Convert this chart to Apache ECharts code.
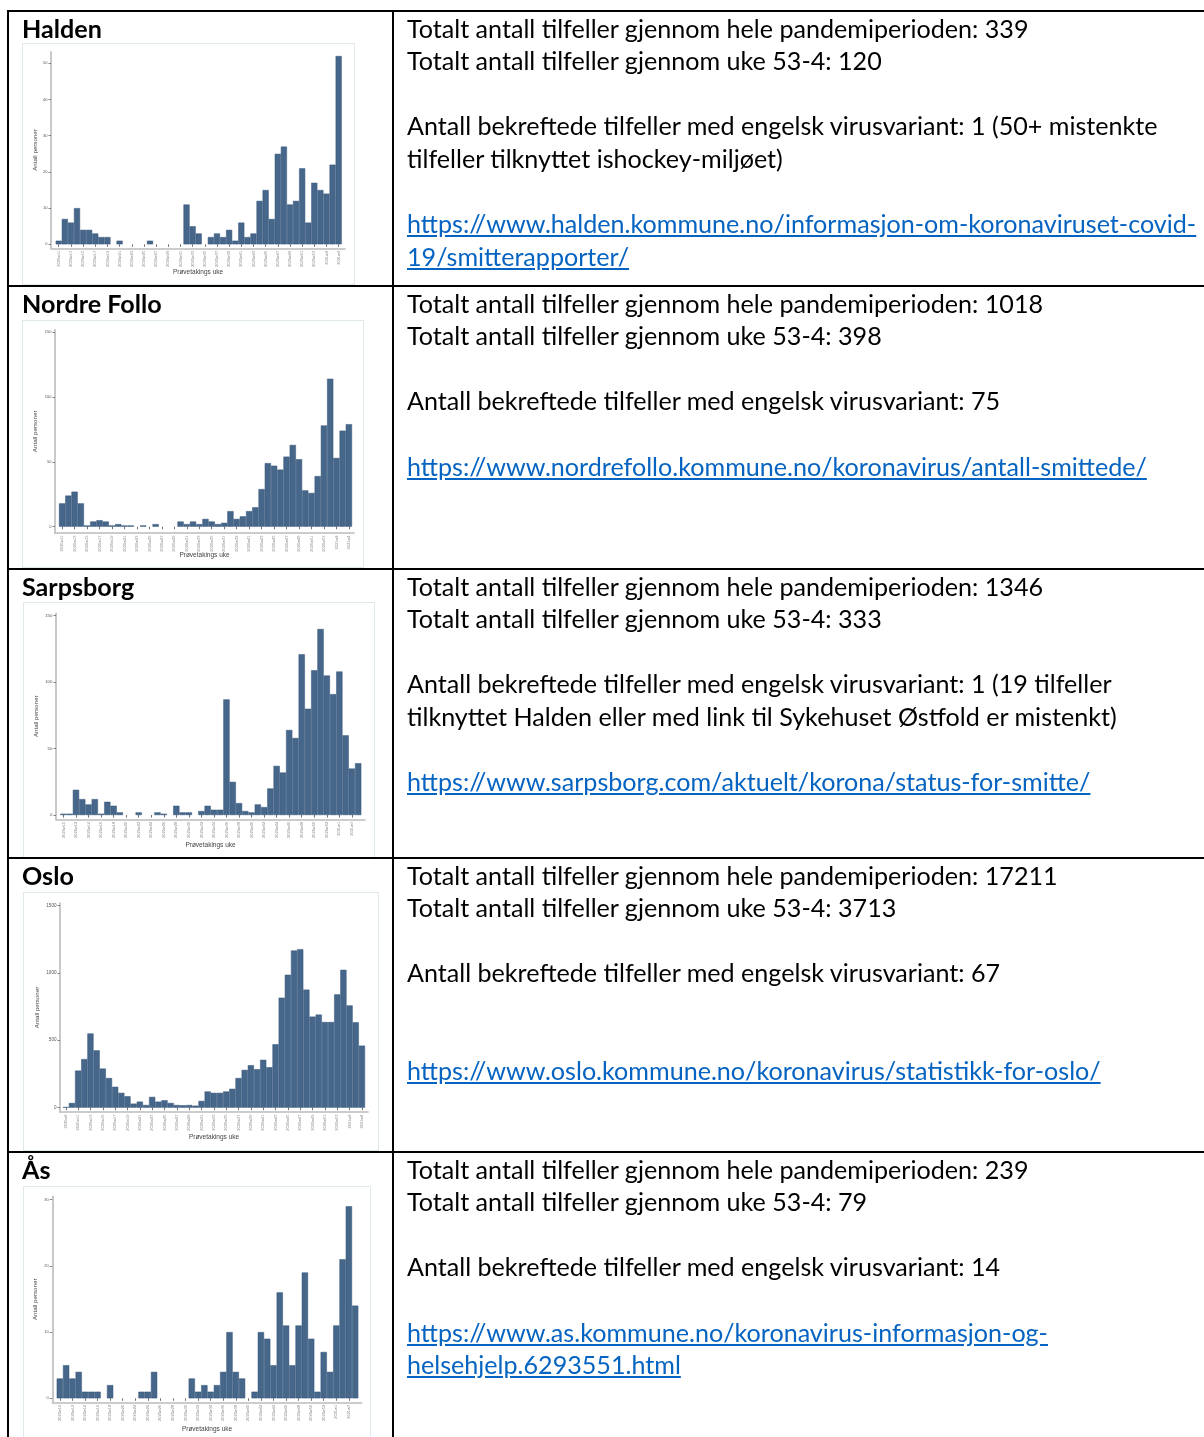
<!DOCTYPE html>
<html><head><meta charset="utf-8">
<script src="https://cdn.jsdelivr.net/npm/echarts@6/dist/echarts.min.js"></script>
<style>
html,body{margin:0;padding:0;background:#fff;}
#wrap{position:relative;width:1204px;height:1437px;overflow:hidden;background:#fff;}
#chart{position:absolute;left:0;top:0;width:1204px;height:1437px;}
.ln{position:absolute;background:#000;}
.frame{position:absolute;border:1px solid #dfe9eb;box-sizing:border-box;}
.txt{position:absolute;left:407px;white-space:nowrap;font-family:Lato,"Open Sans",sans-serif;color:#000;line-height:32.6px;font-size:21px;}
.name{position:absolute;left:22px;white-space:nowrap;font-family:Lato,"Open Sans",sans-serif;font-weight:700;color:#000;line-height:32.6px;font-size:21px;}
a{color:#0563C1;text-decoration:underline;}
</style></head>
<body>
<div id="wrap">
  <div class="frame" style="left:22px;top:43px;width:333px;height:242px"></div>
  <div class="frame" style="left:22px;top:320px;width:342px;height:248px"></div>
  <div class="frame" style="left:23px;top:602px;width:352px;height:256px"></div>
  <div class="frame" style="left:23px;top:892px;width:356px;height:259px"></div>
  <div class="frame" style="left:23px;top:1186px;width:348px;height:260px"></div>
  <div id="chart"></div>

  <div class="ln" style="left:7px;top:10px;width:1197px;height:2px"></div>
  <div class="ln" style="left:7px;top:285px;width:1197px;height:2px"></div>
  <div class="ln" style="left:7px;top:568px;width:1197px;height:2px"></div>
  <div class="ln" style="left:7px;top:857px;width:1197px;height:2px"></div>
  <div class="ln" style="left:7px;top:1151px;width:1197px;height:2px"></div>
  <div class="ln" style="left:7px;top:10px;width:2px;height:1427px"></div>
  <div class="ln" style="left:392px;top:10px;width:2px;height:1427px"></div>

  <div class="name" style="top:11.7px">Halden</div>
  <div class="txt" style="top:11.7px">Totalt antall tilfeller gjennom hele pandemiperioden: 339<br>Totalt antall tilfeller gjennom uke 53-4: 120<br>&nbsp;<br>Antall bekreftede tilfeller med engelsk virusvariant: 1 (50+ mistenkte<br>tilfeller tilknyttet ishockey-miljøet)<br>&nbsp;<br><a>https://www.halden.kommune.no/informasjon-om-koronaviruset-covid-</a><br><a>19/smitterapporter/</a></div>

  <div class="name" style="top:286.7px">Nordre Follo</div>
  <div class="txt" style="top:286.7px">Totalt antall tilfeller gjennom hele pandemiperioden: 1018<br>Totalt antall tilfeller gjennom uke 53-4: 398<br>&nbsp;<br>Antall bekreftede tilfeller med engelsk virusvariant: 75<br>&nbsp;<br><a>https://www.nordrefollo.kommune.no/koronavirus/antall-smittede/</a></div>

  <div class="name" style="top:569.7px">Sarpsborg</div>
  <div class="txt" style="top:569.7px">Totalt antall tilfeller gjennom hele pandemiperioden: 1346<br>Totalt antall tilfeller gjennom uke 53-4: 333<br>&nbsp;<br>Antall bekreftede tilfeller med engelsk virusvariant: 1 (19 tilfeller<br>tilknyttet Halden eller med link til Sykehuset Østfold er mistenkt)<br>&nbsp;<br><a>https://www.sarpsborg.com/aktuelt/korona/status-for-smitte/</a></div>

  <div class="name" style="top:858.7px">Oslo</div>
  <div class="txt" style="top:858.7px">Totalt antall tilfeller gjennom hele pandemiperioden: 17211<br>Totalt antall tilfeller gjennom uke 53-4: 3713<br>&nbsp;<br>Antall bekreftede tilfeller med engelsk virusvariant: 67<br>&nbsp;<br>&nbsp;<br><a>https://www.oslo.kommune.no/koronavirus/statistikk-for-oslo/</a></div>

  <div class="name" style="top:1152.7px">Ås</div>
  <div class="txt" style="top:1152.7px">Totalt antall tilfeller gjennom hele pandemiperioden: 239<br>Totalt antall tilfeller gjennom uke 53-4: 79<br>&nbsp;<br>Antall bekreftede tilfeller med engelsk virusvariant: 14<br>&nbsp;<br><a>https://www.as.kommune.no/koronavirus-informasjon-og-</a><br><a>helsehjelp.6293551.html</a></div>
</div>
<script>
// ---- tick labels (week of sampling) ----
const weeks = ["2020w9","2020w10","2020w11","2020w12","2020w13","2020w14","2020w15","2020w16","2020w17","2020w18",
  "2020w19","2020w20","2020w21","2020w22","2020w23","2020w24","2020w25","2020w26","2020w27","2020w28",
  "2020w29","2020w30","2020w31","2020w32","2020w33","2020w34","2020w35","2020w36","2020w37","2020w38",
  "2020w39","2020w40","2020w41","2020w42","2020w43","2020w44","2020w45","2020w46","2020w47","2020w48",
  "2020w49","2020w50","2020w51","2020w52","2020w53","2021w1","2021w2","2021w3","2021w4"];

// ---- series values (persons per week) ----
const haldenValues = [1,7,6,10,4,4,3,2,2,0, 1,0,0,0,0,1,0,0,0,0, 0,11,5,3,0,2,3,2,4,1, 6,2,3,12,15,7,25,27,11,12, 21,6,17,15,14,22,52];
const nordreFolloValues = [18,24,27,18,1,4,5,4,1,2, 1,1,0,1,0,2,0,0,0,4, 2,4,2,6,4,2,3,12,6,8, 12,15,29,49,47,44,54,63,52,28, 26,39,78,114,53,74,79];
const sarpsborgValues = [1,1,19,12,8,12,1,10,7,2, 0,0,2,0,0,2,1,0,7,2, 2,0,3,7,4,4,87,25,9,3, 2,8,6,20,37,32,64,58,121,80, 109,140,105,91,108,60,35,39];
const osloValues = [5,35,275,360,550,425,290,220,155,110, 85,30,45,20,80,45,55,35,20,18, 20,15,50,120,110,110,120,140,220,280, 315,285,355,300,470,815,985,1165,1175,875, 675,690,635,635,840,1022,758,633,460];
const asValues = [3,5,3,4,1,1,1,0,2,0, 0,0,0,1,1,4,0,0,0,0, 0,3,1,2,1,2,4,10,4,3, 0,1,10,9,5,16,11,5,11,19, 9,1,7,4,11,21,29,14];

// ---- y tick labels ----
const haldenTicks = [0,10,20,30,40,50];
const nordreFolloTicks = [0,50,100,150];
const sarpsborgTicks = [0,50,100,150];
const osloTicks = [0,500,1000,1500];
const asTicks = [0,10,20,30];

const yTitle = "Antall personer";
const xTitle = "Prøvetakings uke";

// fit text size
(function(){
  const ctx = document.createElement('canvas').getContext('2d');
  ctx.font = '100px Lato';
  const w = ctx.measureText('Totalt antall tilfeller gjennom hele pandemiperioden: 339').width;
  const fs = 100 * 622 / w;
  document.querySelectorAll('.txt,.name').forEach(el => el.style.fontSize = fs + 'px');
})();

// ---- layout (pixels) ----
const panels = [
  {values: haldenValues, weeks: weeks.slice(2), ticks: haldenTicks, axisX:51, barsL:55.7, barsR:341.7, axisR:345, top:51.7, bottom:248.3, ymin:-1.1, ymax:53.2, yGap:13, xGap:20.5, lf:4},
  {values: nordreFolloValues, weeks: weeks.slice(2), ticks: nordreFolloTicks, axisX:55, barsL:59, barsR:352, axisR:354, top:329.7, bottom:533, ymin:-4.85, ymax:151.8, yGap:17, xGap:18.7, lf:4},
  {values: sarpsborgValues, weeks: weeks.slice(1), ticks: sarpsborgTicks, axisX:56, barsL:60.3, barsR:361.3, axisR:365, top:613.3, bottom:819.3, ymin:-3.2, ymax:151.8, yGap:17, xGap:22.4, lf:4.4},
  {values: osloValues, weeks: weeks.slice(0), ticks: osloTicks, axisX:60, barsL:62.7, barsR:365, axisR:368, top:903, bottom:1112, ymin:-32, ymax:1517, yGap:20, xGap:21.7, lf:4.6},
  {values: asValues, weeks: weeks.slice(1), ticks: asTicks, axisX:52.3, barsL:56.7, barsR:358.3, axisR:361.7, top:1196.3, bottom:1402.3, ymin:-0.6, ymax:30.5, yGap:14, xGap:23, lf:4}
];

const W = 1204, H = 1437;
const grid = [], xAxis = [], yAxis = [], series = [];
const barColor = '#46668a', barEdge = '#37567a';
const axisGray = '#bcbcbc';
panels.forEach((p, i) => {
  const gA = grid.length;
  grid.push({left: p.barsL, top: p.top, width: p.barsR - p.barsL, height: p.bottom - p.top, containLabel: false});
  const gB = grid.length;
  grid.push({left: p.axisX, top: p.top, width: p.axisR - p.axisX, height: p.bottom - p.top, containLabel: false});
  xAxis.push({
    type: 'category', gridIndex: gA, data: p.weeks, boundaryGap: true,
    axisLine: {show: false},
    axisTick: {show: true, interval: 1, alignWithLabel: true, length: 2.5, lineStyle: {color: '#333', width: 0.7}},
    axisLabel: {interval: 1, rotate: 90, fontSize: 4, color: '#8a8a8a', margin: 2.5, fontFamily: 'Liberation Sans'},
    splitLine: {show: false}
  });
  yAxis.push({type: 'value', gridIndex: gA, min: p.ymin, max: p.ymax, show: false});
  xAxis.push({
    type: 'value', gridIndex: gB, min: 0, max: 1,
    axisLine: {show: true, onZero: false, lineStyle: {color: axisGray, width: 1.6}},
    axisTick: {show: false}, axisLabel: {show: false}, splitLine: {show: false},
    name: xTitle, nameLocation: 'middle', nameGap: p.xGap,
    nameTextStyle: {fontSize: 6.5, color: '#444', fontFamily: 'Liberation Sans'}
  });
  yAxis.push({
    type: 'value', gridIndex: gB, min: p.ymin, max: p.ymax,
    axisLine: {show: true, onZero: false, lineStyle: {color: axisGray, width: 1.6}},
    axisTick: {show: true, length: 2.5, customValues: p.ticks, lineStyle: {color: '#555', width: 0.7}},
    axisLabel: {show: true, customValues: p.ticks, formatter: v => String(v), fontSize: p.lf, color: '#555', margin: 3.5, fontFamily: 'Liberation Sans'},
    splitLine: {show: false},
    name: yTitle, nameLocation: 'middle', nameGap: p.yGap,
    nameTextStyle: {fontSize: 6.2, color: '#444', fontFamily: 'Liberation Sans'}
  });
  series.push({
    type: 'bar', xAxisIndex: gA, yAxisIndex: gA, barCategoryGap: '0%', silent: true,
    itemStyle: {color: barColor, borderColor: barEdge, borderWidth: 0.5},
    data: p.values.map(v => v === 0 ? {value: 0, itemStyle: {borderWidth: 0}} : v)
  });
});

const chart = echarts.init(document.getElementById('chart'), null, {renderer: 'canvas', width: W, height: H});
chart.setOption({animation: false, backgroundColor: 'transparent', grid, xAxis, yAxis, series});
</script>
</body></html>
